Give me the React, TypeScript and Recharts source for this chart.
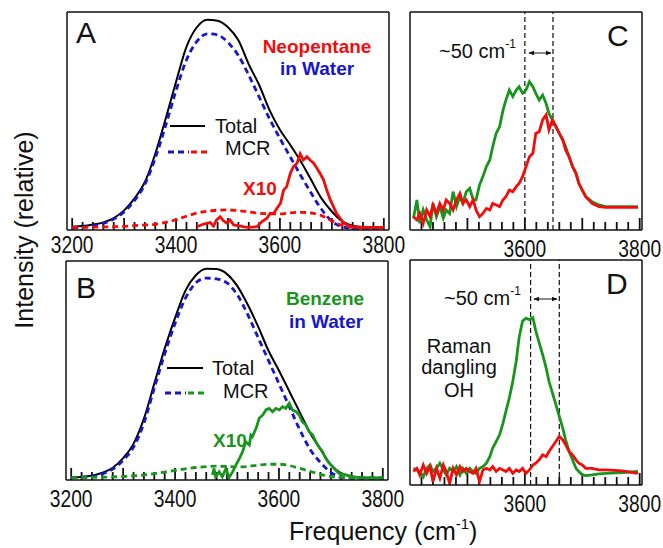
import React from "react";
import { LineChart, Line, XAxis, YAxis, ReferenceLine } from "recharts";

const FONT = '"Liberation Sans", Arial, Helvetica, sans-serif';
const RED = "#f20d0d";
const BLUE = "#1616cc";
const GREEN = "#18951c";
const INK = "#111";

// panels A and B: wide frequency grid (cm-1)
const FREQ_AB = [3200, 3220, 3240, 3260, 3280, 3300, 3320, 3340, 3360, 3380, 3400, 3420, 3440, 3460, 3480, 3500, 3520, 3540, 3560, 3580, 3600, 3620, 3640, 3660, 3680, 3700, 3720, 3740, 3760, 3780, 3800];
const TOTAL_A = [1.5, 1.8, 2.5, 3.5, 5.5, 9, 14.5, 22, 35, 51, 68, 84, 93, 96.5, 96, 93, 87, 76, 66.5, 55, 46, 39, 31.5, 23, 14.5, 8.5, 4, 2, 1.4, 1.3, 1.2];
const MCR_BLUE_A = [1.0, 1.3, 2.0, 3.0, 5.0, 8.3, 13.5, 21, 33, 48, 64, 78, 86.5, 90, 89.5, 86, 80, 71, 61, 51, 42, 33.5, 25, 17, 9.5, 4, 1.5, 0.8, 0.8, 0.8, 0.8];
const MCR_RED_A = [1.2, 1.2, 1.3, 1.4, 1.5, 1.6, 2.0, 2.3, 2.6, 3.5, 4.7, 6.3, 7.8, 8.6, 9.1, 9.2, 8.9, 8.3, 7.7, 7.4, 7.4, 7.9, 8.1, 7.8, 6.6, 4.2, 2.1, 1.2, 1.0, 1.0, 1.0];
const TOTAL_B = [1.1, 1.4, 2.0, 3.3, 5.6, 10, 16.5, 28, 44, 60, 74, 86.5, 93.5, 96.5, 96.3, 94, 88.5, 80, 70, 59, 50, 40.5, 31, 21.5, 14, 7, 3, 1.6, 1.1, 1.0, 1.0];
const MCR_BLUE_B = [1.0, 1.2, 1.7, 2.8, 5.0, 9, 15, 26, 42, 57.5, 71.5, 83, 90, 92.2, 91.8, 90, 84.5, 75.5, 65, 54.5, 44, 33.5, 23, 14, 8, 3.5, 1.2, 0.8, 0.8, 0.8, 0.8];
const MCR_GREEN_B = [1.1, 1.1, 1.2, 1.3, 1.4, 1.6, 1.9, 2.3, 2.9, 3.6, 4.4, 5.1, 5.7, 6.1, 6.3, 6.2, 6.0, 6.2, 6.8, 7.2, 7.2, 6.6, 5.3, 3.9, 2.6, 1.6, 1.2, 1.1, 1.1, 1.1, 1.1];

// x10 traces
const X10_A_FREQ = [3440, 3453, 3466, 3472, 3478, 3485, 3491, 3498, 3504, 3511, 3524, 3536, 3556, 3565, 3575, 3581, 3588, 3594, 3601, 3607, 3613, 3620, 3626, 3633, 3639, 3645, 3652, 3658, 3665, 3671, 3677, 3684, 3690, 3697, 3703, 3709, 3716, 3722, 3729, 3741, 3754, 3800];
const X10_A = [1.5, 2.75, 3.4, 1.8, 4.6, 6.1, 4.3, 3.1, 4.6, 2.3, 1.8, 1.2, 1.5, 3.8, 5.4, 7.6, 7.6, 9.9, 12.2, 18.3, 19.9, 26, 29.1, 30.6, 34.9, 32.1, 33.6, 32.1, 30.6, 28.4, 26, 23, 18.3, 13.8, 10.7, 7.6, 5.4, 3.4, 2.3, 1.5, 1.2, 1.2];
const X10_B_FREQ = [3472, 3475, 3478, 3485, 3491, 3498, 3504, 3511, 3517, 3524, 3530, 3536, 3543, 3546, 3549, 3556, 3562, 3569, 3575, 3581, 3588, 3594, 3601, 3607, 3613, 3620, 3626, 3633, 3639, 3645, 3652, 3658, 3665, 3671, 3677, 3684, 3690, 3697, 3703, 3709, 3716, 3729, 3741, 3754, 3800];
const X10_B = [2.3, 5.3, 1.5, 3.8, 1.5, 5.3, 1.1, 3.8, 6.8, 9.9, 12.9, 17.5, 16.0, 20.5, 19.8, 23.6, 28.2, 29.7, 32.0, 32.7, 31.2, 32.7, 32.0, 33.5, 32.7, 35.0, 32.0, 31.2, 29.7, 26.6, 25.1, 22.1, 20.5, 17.5, 15.2, 12.9, 9.9, 7.6, 6.1, 4.6, 3.0, 2.3, 1.5, 1.1, 0.8];

// panels C and D: narrow frequency grid
const FREQ_CD = [3406, 3412, 3417, 3423, 3429, 3435, 3440, 3446, 3452, 3458, 3463, 3469, 3475, 3481, 3487, 3492, 3498, 3504, 3510, 3515, 3521, 3527, 3533, 3539, 3544, 3550, 3556, 3562, 3567, 3573, 3579, 3585, 3590, 3596, 3602, 3608, 3614, 3619, 3625, 3631, 3637, 3642, 3648, 3654, 3660, 3666, 3671, 3677, 3683, 3689, 3694, 3700, 3706, 3717, 3729, 3741, 3770, 3797];
const GREEN_C = [5.4, 13.8, 3.1, 9.2, 4.6, 1.5, 12.2, 6.1, 10.7, 5.4, 9.2, 7.6, 17.6, 10.7, 15.3, 12.2, 17.6, 19.1, 13.8, 13.8, 20.6, 24.5, 29.1, 32.1, 38.2, 44.3, 47.4, 55.0, 59.6, 64.2, 61.2, 64.2, 65.7, 62.7, 64.2, 68.0, 65.7, 62.7, 59.6, 61.9, 58.1, 53.5, 50.5, 47.4, 44.3, 41.3, 38.2, 33.6, 29.1, 26.0, 21.4, 18.3, 15.3, 13.0, 11.5, 10.7, 10.7, 10.7];
const RED_C = [6.1, 4.6, 7.6, 3.1, 9.2, 6.1, 11.5, 7.6, 12.2, 9.2, 13.8, 12.2, 9.2, 13.8, 16.8, 12.2, 13.8, 10.7, 13.8, 9.2, 6.1, 7.6, 9.9, 9.2, 12.2, 11.5, 10.7, 13.8, 15.3, 18.3, 17.6, 19.9, 21.4, 24.5, 29.1, 33.6, 35.2, 44.3, 45.1, 50.5, 52.8, 45.9, 50.5, 47.4, 44.3, 41.3, 36.7, 33.6, 29.1, 26.0, 21.4, 18.3, 15.3, 12.2, 10.7, 10.4, 10.4, 10.4];
const GREEN_D = [7.4, 6.7, 6.0, 3.7, 7.4, 8.9, 6.0, 7.4, 9.7, 6.7, 4.5, 7.4, 6.0, 8.2, 4.5, 7.4, 5.2, 7.4, 6.0, 5.2, 7.4, 8.2, 9.7, 12.6, 16.4, 19.3, 22.3, 27.5, 32.7, 38.7, 46.1, 55.1, 65.5, 72.9, 74.1, 73.5, 74.4, 68.5, 63.2, 58.0, 52.1, 46.1, 40.9, 35.7, 30.5, 25.3, 20.1, 14.9, 11.2, 7.4, 6.0, 4.5, 4.2, 4.5, 4.9, 5.2, 5.5, 6.0];
const RED_D = [6.0, 7.4, 4.5, 8.9, 5.2, 8.2, 1.5, 7.4, 3.0, 8.9, 6.0, 0.7, 7.4, 4.5, 8.2, 6.0, 7.4, 6.0, 5.2, 7.4, 1.5, 6.7, 7.4, 6.7, 8.2, 6.0, 7.4, 6.7, 6.0, 7.4, 5.2, 6.7, 6.0, 7.4, 5.2, 6.7, 8.9, 9.7, 11.2, 13.4, 12.6, 14.9, 17.1, 19.3, 21.6, 20.1, 17.9, 14.9, 13.4, 11.2, 9.7, 8.9, 7.4, 7.4, 6.7, 6.7, 6.3, 5.2];

// ticks
const TICKS_AB = [3200, 3220, 3240, 3260, 3280, 3300, 3320, 3340, 3360, 3380, 3400, 3420, 3440, 3460, 3480, 3500, 3520, 3540, 3560, 3580, 3600, 3620, 3640, 3660, 3680, 3700, 3720, 3740, 3760, 3780, 3800];
const LABELS_AB = [3200, 3400, 3600, 3800];
const TICKS_CD = [3420, 3440, 3460, 3480, 3500, 3520, 3540, 3560, 3580, 3600, 3620, 3640, 3660, 3680, 3700, 3720, 3740, 3760, 3780, 3800];
const LABELS_CD = [3600, 3800];
const SHIFT_C = [3600, 3649];
const SHIFT_D = [3610, 3660];

const zip = (xs: number[], ys: number[]) => xs.map((x, i) => ({ x, y: ys[i] }));

function makeLabel(gap: number) {
  return (props: any) => {
    const { x, y, payload } = props;
    return (
      <text transform={`translate(${x},${y + gap}) scale(0.8,1)`} textAnchor="middle" fontSize={24} fontFamily={FONT} fill={INK}>
        {payload.value}
      </text>
    );
  };
}

type PanelProps = {
  left: number;
  top: number;
  width: number;
  height: number;
  domain: [number, number];
  ticks: number[];
  labels: number[];
  gap: number;
  children: React.ReactNode;
};

const frame = { stroke: INK, strokeWidth: 1.5 };
const series = { xAxisId: "x", yAxisId: "y", dataKey: "y", dot: false, isAnimationActive: false } as const;

function Panel({ left, top, width, height, domain, ticks, labels, gap, children }: PanelProps) {
  // inward tick marks drawn as short vertical segments in data space
  const unit = 100 / height;
  return (
    <div style={{ position: "absolute", left: left - 30, top: top - 4 }}>
      <LineChart width={width + 60} height={height + 4 + 36} margin={{ top: 3, right: 29, bottom: 0, left: 29 }}>
        <XAxis
          xAxisId="x"
          type="number"
          dataKey="x"
          domain={domain}
          ticks={labels}
          interval={0}
          allowDataOverflow
          height={36}
          tickSize={0}
          tickMargin={0}
          tickLine={false}
          axisLine={frame}
          tick={makeLabel(gap)}
        />
        <XAxis xAxisId="top" orientation="top" type="number" dataKey="x" domain={domain} allowDataOverflow height={1} tick={false} tickLine={false} axisLine={frame} />
        <YAxis yAxisId="y" type="number" domain={[0, 100]} allowDataOverflow width={1} tick={false} tickLine={false} axisLine={frame} />
        <YAxis yAxisId="right" orientation="right" type="number" domain={[0, 100]} allowDataOverflow width={1} tick={false} tickLine={false} axisLine={frame} />
        {ticks.map((t) => (
          <Line
            key={`tick${t}`}
            {...series}
            data={[
              { x: t, y: 0 },
              { x: t, y: (t % 100 === 0 ? 12 : 8) * unit },
            ]}
            type="linear"
            stroke={INK}
            strokeWidth={1.8}
          />
        ))}
        {children}
      </LineChart>
    </div>
  );
}

export default function App() {
  return (
    <div style={{ position: "absolute", left: 0, top: 0, width: 663, height: 548, background: "#fff" }}>
      <Panel left={67} top={12} width={322} height={218} domain={[3190, 3810]} ticks={TICKS_AB} labels={LABELS_AB} gap={23}>
        <Line {...series} data={zip(FREQ_AB, TOTAL_A)} type="monotone" stroke="#000" strokeWidth={2} />
        <Line {...series} data={zip(FREQ_AB, MCR_BLUE_A)} type="monotone" stroke={BLUE} strokeWidth={2.8} strokeDasharray="6 4" />
        <Line {...series} data={zip(FREQ_AB, MCR_RED_A)} type="monotone" stroke={RED} strokeWidth={2.8} strokeDasharray="6 4" />
        <Line {...series} data={zip(X10_A_FREQ, X10_A)} type="linear" stroke={RED} strokeWidth={2.8} />
      </Panel>

      <Panel left={66} top={261} width={322} height={219} domain={[3190, 3810]} ticks={TICKS_AB} labels={LABELS_AB} gap={27}>
        <Line {...series} data={zip(FREQ_AB, TOTAL_B)} type="monotone" stroke="#000" strokeWidth={2} />
        <Line {...series} data={zip(FREQ_AB, MCR_BLUE_B)} type="monotone" stroke={BLUE} strokeWidth={2.8} strokeDasharray="6 4" />
        <Line {...series} data={zip(FREQ_AB, MCR_GREEN_B)} type="monotone" stroke={GREEN} strokeWidth={2.8} strokeDasharray="6 4" />
        <Line {...series} data={zip(X10_B_FREQ, X10_B)} type="linear" stroke={GREEN} strokeWidth={2.8} />
      </Panel>

      <Panel left={410} top={12} width={232} height={218} domain={[3400, 3804]} ticks={TICKS_CD} labels={LABELS_CD} gap={27}>
        {SHIFT_C.map((f) => (
          <ReferenceLine key={f} xAxisId="x" yAxisId="y" x={f} stroke={INK} strokeWidth={1.2} strokeDasharray="5 3" />
        ))}
        <Line {...series} data={zip(FREQ_CD, GREEN_C)} type="linear" stroke={GREEN} strokeWidth={2.8} />
        <Line {...series} data={zip(FREQ_CD, RED_C)} type="linear" stroke={RED} strokeWidth={2.8} />
      </Panel>

      <Panel left={410} top={260} width={232} height={225} domain={[3400, 3804]} ticks={TICKS_CD} labels={LABELS_CD} gap={27}>
        {SHIFT_D.map((f) => (
          <ReferenceLine key={f} xAxisId="x" yAxisId="y" x={f} stroke={INK} strokeWidth={1.2} strokeDasharray="5 3" />
        ))}
        <Line {...series} data={zip(FREQ_CD, GREEN_D)} type="linear" stroke={GREEN} strokeWidth={2.8} />
        <Line {...series} data={zip(FREQ_CD, RED_D)} type="linear" stroke={RED} strokeWidth={2.8} />
      </Panel>

      <svg width={663} height={548} style={{ position: "absolute", left: 0, top: 0, pointerEvents: "none" }} fontFamily={FONT}>
        <defs>
          <marker id="ah" viewBox="0 0 10 10" refX="9" refY="5" markerWidth="6" markerHeight="6" orient="auto-start-reverse">
            <path d="M0,1 L10,5 L0,9 z" fill={INK} />
          </marker>
        </defs>

        <text x={76} y={43} fontSize={30} fill={INK}>A</text>
        <text x={76} y={298} fontSize={30} fill={INK}>B</text>
        <text x={607} y={46} fontSize={30} fill={INK}>C</text>
        <text x={606} y={294} fontSize={30} fill={INK}>D</text>

        <text x={317} y={53} textAnchor="middle" fontSize={19} fontWeight="bold" fill={RED}>Neopentane</text>
        <text x={317} y={75} textAnchor="middle" fontSize={19} fontWeight="bold" fill={BLUE}>in Water</text>
        <text x={325} y={305} textAnchor="middle" fontSize={19} fontWeight="bold" fill={GREEN}>Benzene</text>
        <text x={326} y={328} textAnchor="middle" fontSize={19} fontWeight="bold" fill={BLUE}>in Water</text>

        <line x1={170} x2={205} y1={126} y2={126} stroke="#000" strokeWidth={2} />
        <text x={215} y={133} fontSize={20} fill={INK}>Total</text>
        <line x1={168} x2={189} y1={152} y2={152} stroke={BLUE} strokeWidth={2.8} strokeDasharray="6 4" />
        <line x1={191} x2={211} y1={152} y2={152} stroke={RED} strokeWidth={2.8} strokeDasharray="6 4" />
        <text x={225} y={155} fontSize={20} fill={INK}>MCR</text>
        <text x={243} y={195} fontSize={19} fontWeight="bold" fill={RED}>X10</text>

        <line x1={167} x2={203} y1={368} y2={368} stroke="#000" strokeWidth={2} />
        <text x={212} y={375} fontSize={20} fill={INK}>Total</text>
        <line x1={165} x2={186} y1={393} y2={393} stroke={BLUE} strokeWidth={2.8} strokeDasharray="6 4" />
        <line x1={188} x2={208} y1={393} y2={393} stroke={GREEN} strokeWidth={2.8} strokeDasharray="6 4" />
        <text x={223} y={398} fontSize={20} fill={INK}>MCR</text>
        <text x={213} y={447} fontSize={19} fontWeight="bold" fill={GREEN}>X10</text>

        <text x={439} y={58} fontSize={20} fill={INK}>
          ~50 cm<tspan dy={-10} fontSize={12}>-1</tspan>
        </text>
        <line x1={529} x2={551} y1={53} y2={53} stroke={INK} strokeWidth={1} markerStart="url(#ah)" markerEnd="url(#ah)" />
        <text x={444} y={305} fontSize={20} fill={INK}>
          ~50 cm<tspan dy={-10} fontSize={12}>-1</tspan>
        </text>
        <line x1={534} x2={557} y1={299} y2={299} stroke={INK} strokeWidth={1} markerStart="url(#ah)" markerEnd="url(#ah)" />

        <text x={459} y={353} textAnchor="middle" fontSize={20} fill={INK}>Raman</text>
        <text x={459} y={374} textAnchor="middle" fontSize={20} fill={INK}>dangling</text>
        <text x={459} y={397} textAnchor="middle" fontSize={20} fill={INK}>OH</text>

        <text transform="translate(33,230) rotate(-90)" textAnchor="middle" fontSize={25} fill={INK}>Intensity (relative)</text>
        <text x={289} y={540} fontSize={25} fill={INK}>
          Frequency (cm<tspan dy={-11} fontSize={15}>-1</tspan><tspan dy={11}>)</tspan>
        </text>
      </svg>
    </div>
  );
}
